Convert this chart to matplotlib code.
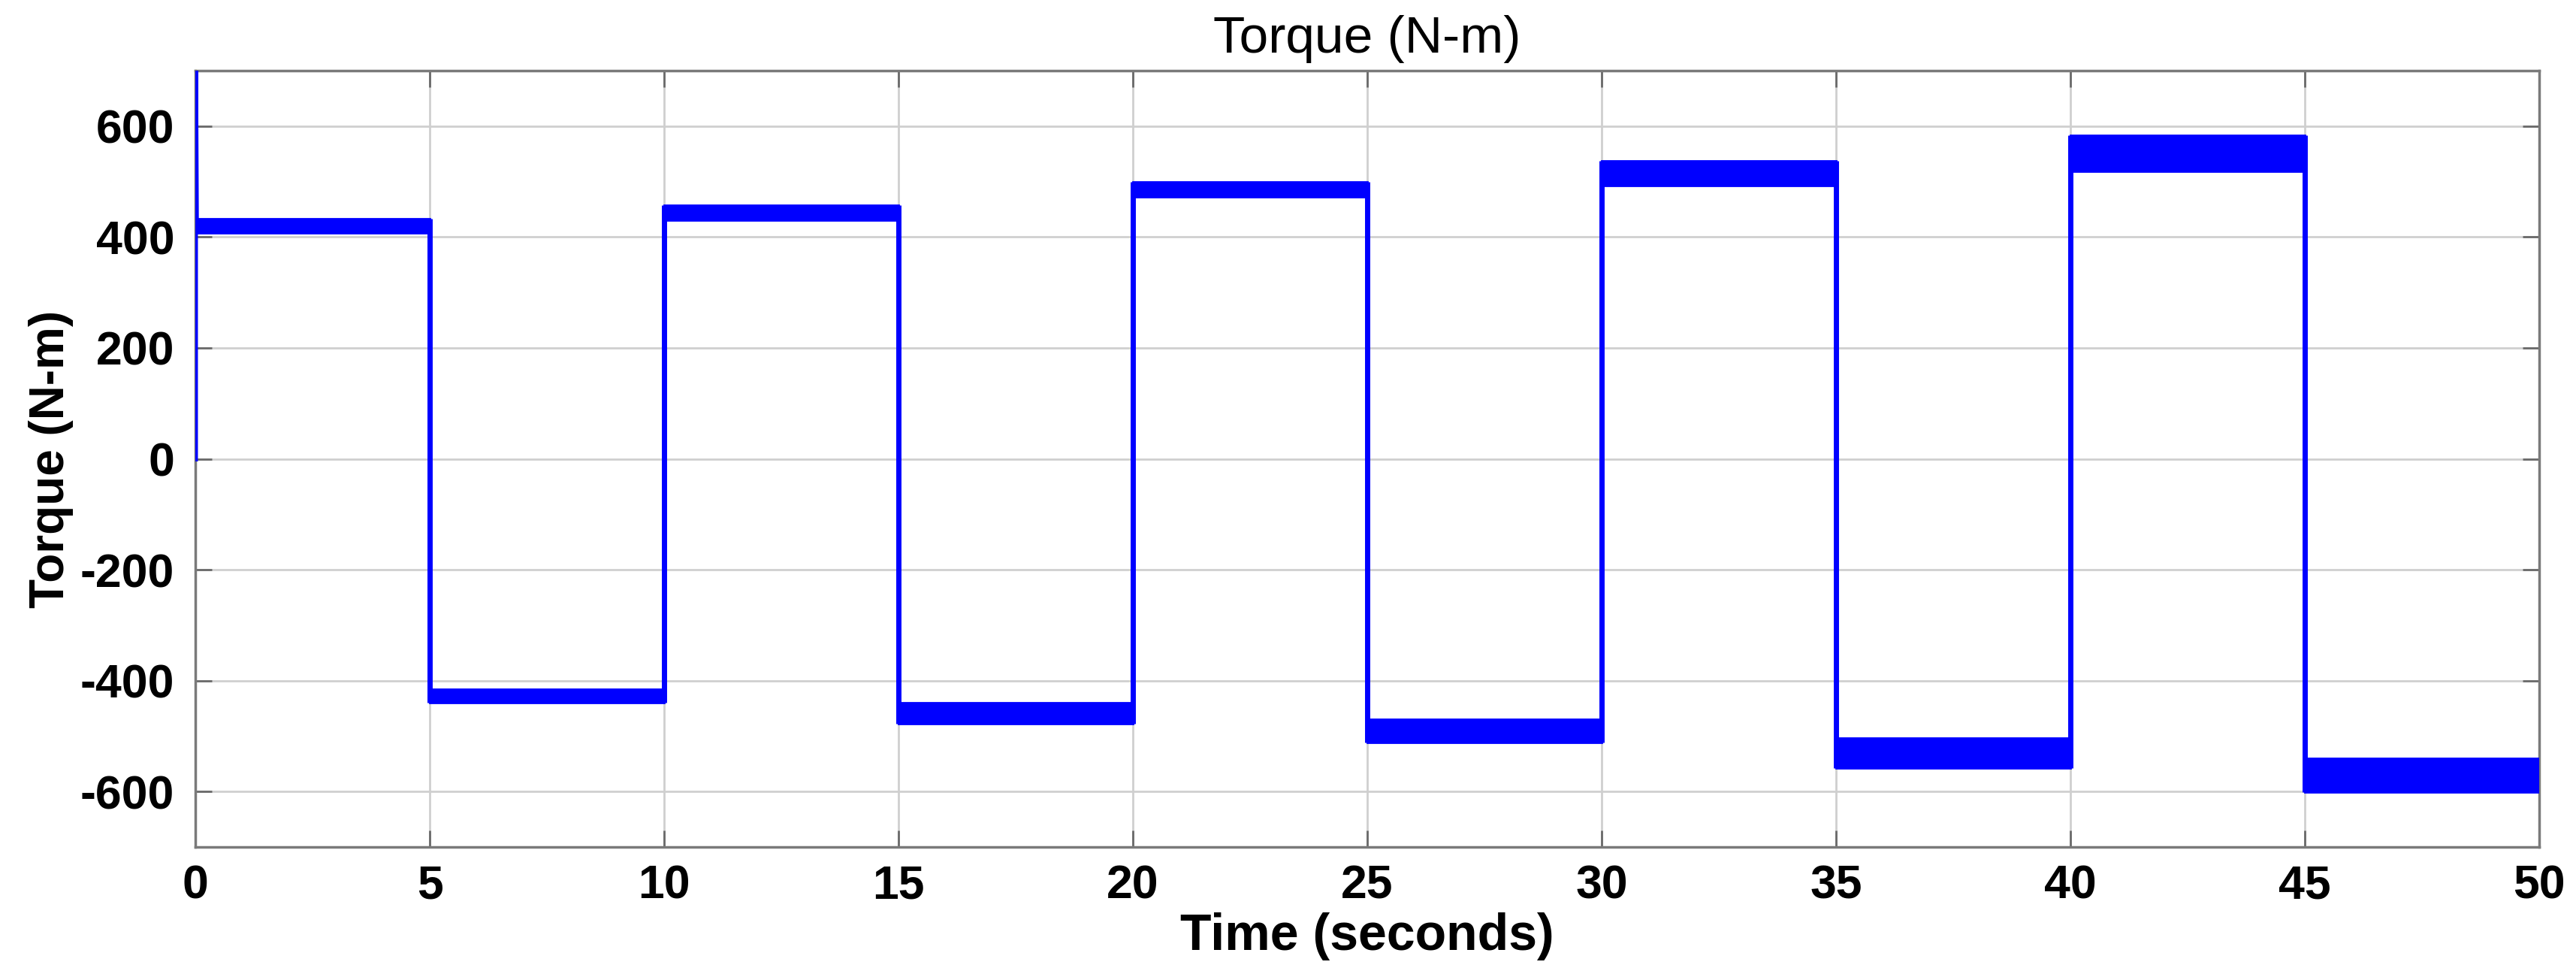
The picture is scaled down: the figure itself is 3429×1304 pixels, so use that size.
import numpy as np
import matplotlib
matplotlib.use('Agg')
import matplotlib.pyplot as plt

# 各段的时间区间与扭矩带宽 (N-m)
seg_start = [0, 5, 10, 15, 20, 25, 30, 35, 40, 45]
seg_end = [5, 10, 15, 20, 25, 30, 35, 40, 45, 50]
band_low = [407, -440, 430, -478, 472, -512, 493, -557, 518, -601]
band_high = [433, -415, 458, -440, 500, -470, 537, -503, 583, -540]

# 起始瞬态：从 0 冲到 700 以上再回落
start_t = [0.0, 0.0, 0.02]
start_v = [0, 760, 420]

x_ticks = [0, 5, 10, 15, 20, 25, 30, 35, 40, 45, 50]
y_ticks = [-600, -400, -200, 0, 200, 400, 600]

blue = '#0000ff'
plt.rcParams['font.family'] = ['Liberation Sans', 'DejaVu Sans']
plt.rcParams['axes.unicode_minus'] = False

fig = plt.figure(figsize=(34.3, 13.04), dpi=100)
ax = fig.add_axes([0.0758, 0.1357, 0.9096, 0.7922])

# 扭矩带
for t0, t1, lo, hi in zip(seg_start, seg_end, band_low, band_high):
    ax.fill_between([t0, t1], [lo, lo], [hi, hi], color=blue, lw=0, zorder=3)
    ax.plot([t0, t1], [lo, lo], color=blue, lw=2, zorder=3)
    ax.plot([t0, t1], [hi, hi], color=blue, lw=2, zorder=3)

# 切换处的竖线
for k in range(1, len(seg_start)):
    t = seg_start[k]
    ys = [band_low[k - 1], band_high[k - 1], band_low[k], band_high[k]]
    ax.plot([t, t], [min(ys), max(ys)], color=blue, lw=5, zorder=3,
            solid_capstyle='butt')

ax.plot(start_t, start_v, color=blue, lw=5, zorder=3)

ax.set_xlim(0, 50)
ax.set_ylim(-700, 700)
ax.set_xticks(x_ticks)
ax.set_yticks(y_ticks)
ax.grid(True, color='#cfcfcf', lw=2)
ax.set_axisbelow(True)

for s in ax.spines.values():
    s.set_color('#7a7a7a')
    s.set_linewidth(2.5)

ax.tick_params(direction='in', length=16, width=2, color='#6a6a6a',
               top=True, right=True, labelsize=45)
ax.tick_params(axis='x', pad=16)
ax.tick_params(axis='y', pad=20)
for lab in ax.get_xticklabels() + ax.get_yticklabels():
    lab.set_fontweight('bold')

ax.set_title('Torque (N-m)', fontsize=50, pad=17)
ax.set_xlabel('Time (seconds)', fontsize=49, fontweight='bold', labelpad=4)
ax.set_ylabel('Torque (N-m)', fontsize=46, fontweight='bold', labelpad=6)

fig.savefig('out.png', dpi=100, facecolor='white')
